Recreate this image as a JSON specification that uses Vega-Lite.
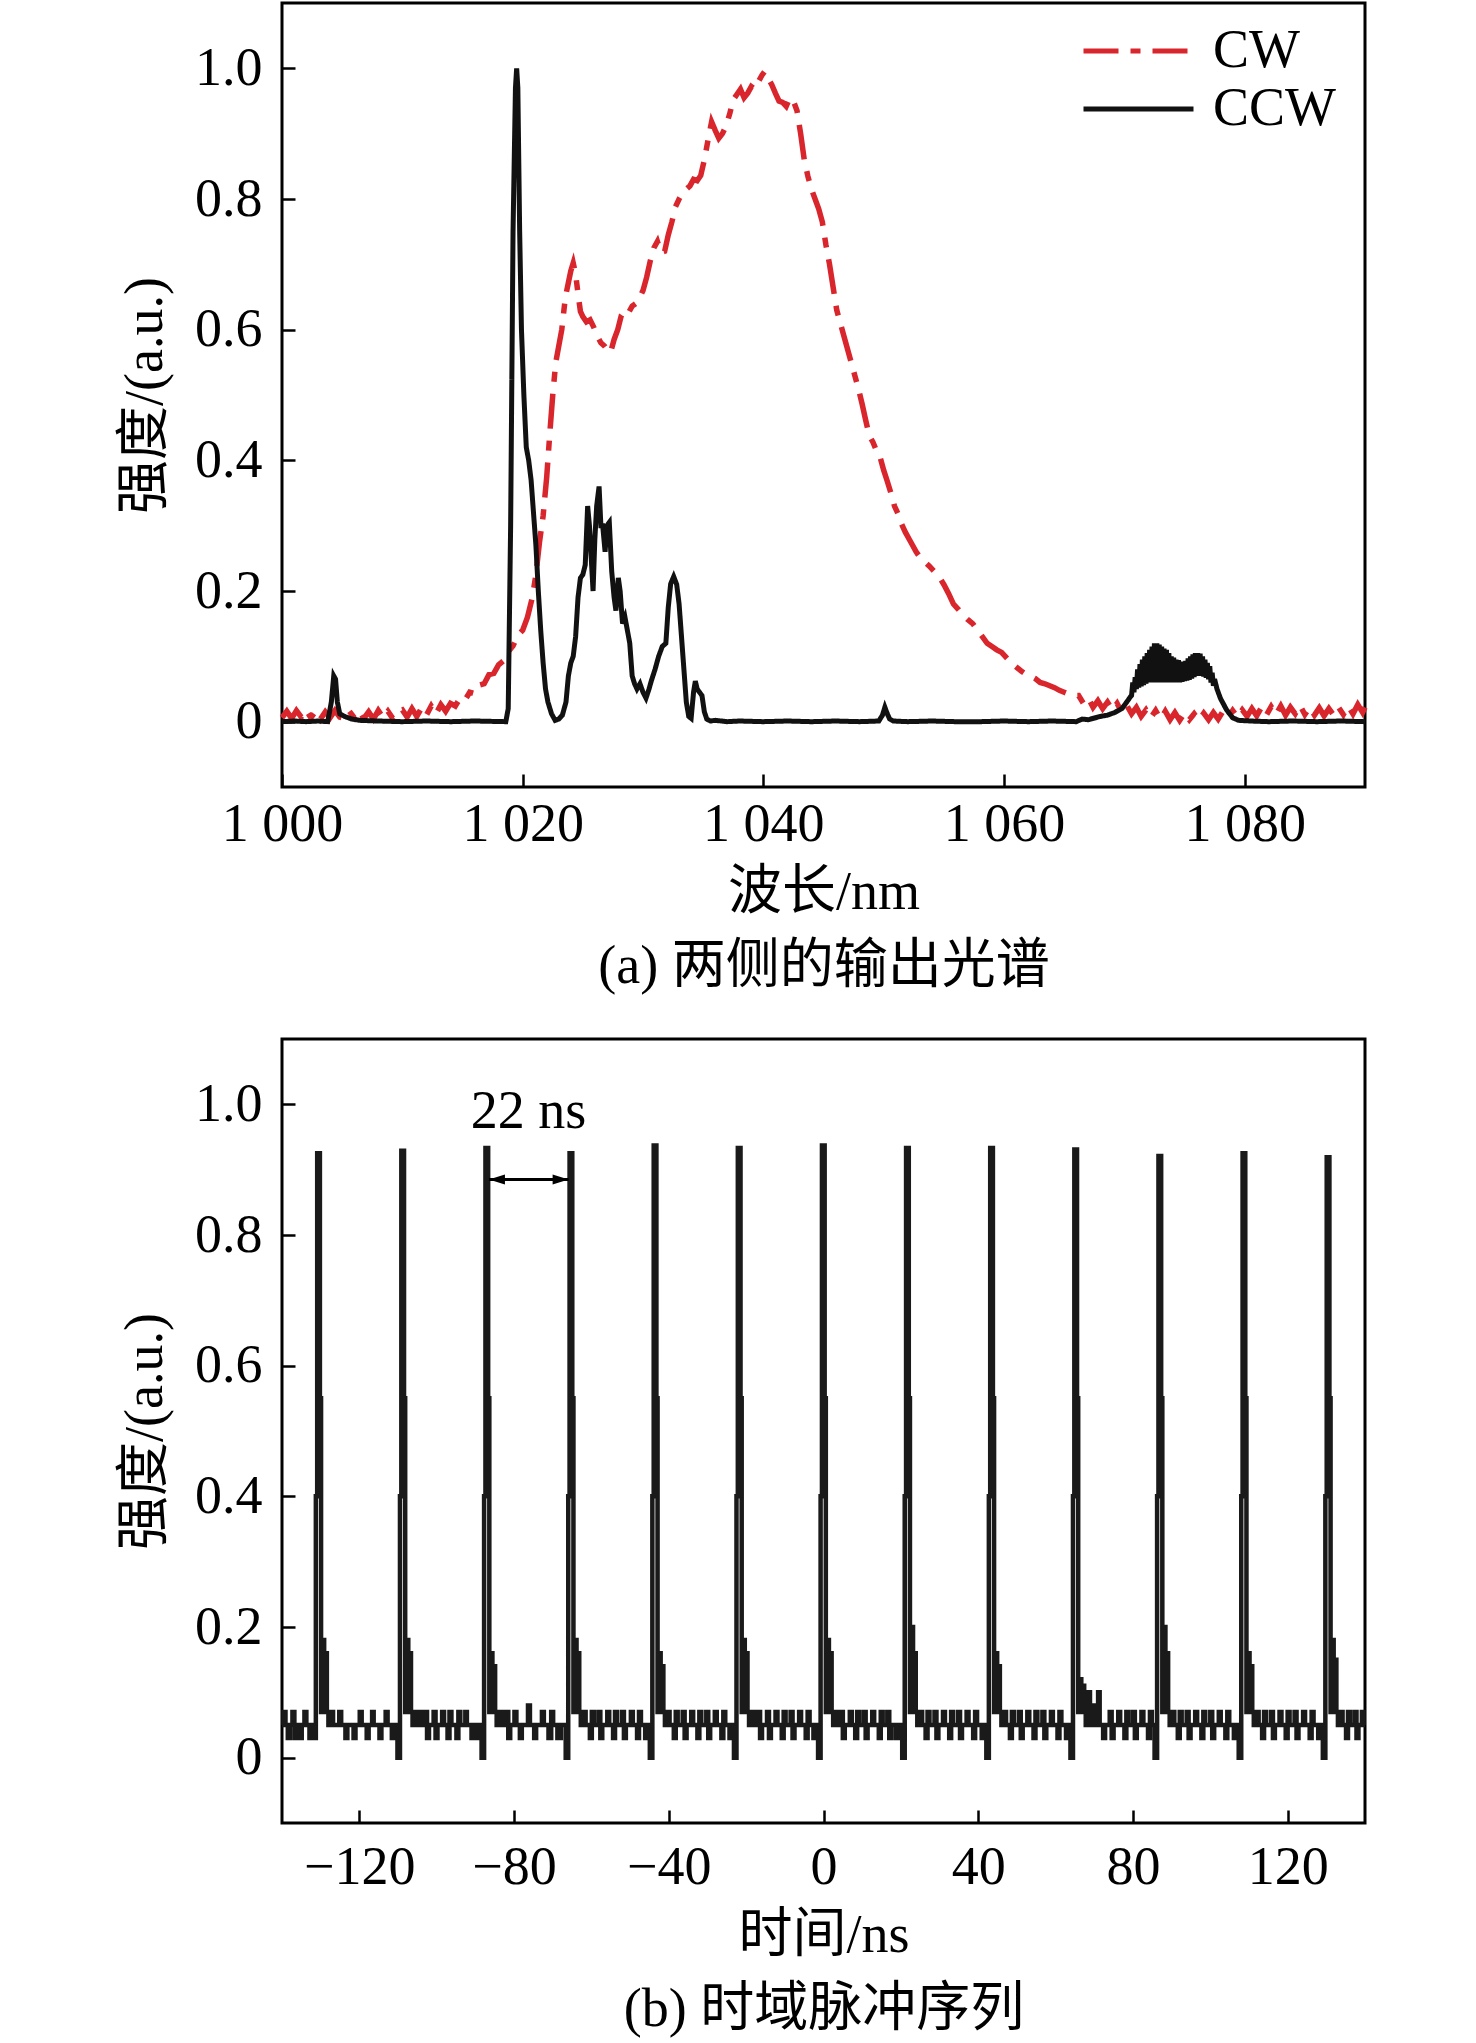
{
"$schema": "https://vega.github.io/schema/vega-lite/v6.json",
"padding": {"left": 117, "top": 1, "right": 5, "bottom": 5},
"background": "white",
"spacing": 42,
"config": {
  "view": {"stroke": "black", "strokeWidth": 3},
  "font": "Liberation Serif",
  "axis": {
    "domain": false, "grid": false,
    "labelFont": "Liberation Serif", "labelFontSize": 54, "labelColor": "black",
    "titleFont": "Liberation Serif, Noto Sans CJK SC", "titleFontSize": 54, "titleFontWeight": "normal", "titleColor": "black",
    "tickColor": "black", "tickWidth": 2.5, "tickSize": -13, "labelPadding": 33,
    "labelFlush": false, "labelOverlap": false
  },
  "axisX": {"labelPadding": 30, "titlePadding": 14, "titleLineHeight": 74},
  "axisY": {"titlePadding": 22}
},
"datasets": {
  "spectra": [
    {"s":"CW","x":1000,"y":0.006},{"s":"CW","x":1000.4,"y":0.016},{"s":"CW","x":1000.8,"y":0.005},{"s":"CW","x":1001.2,"y":0.017},{"s":"CW","x":1001.6,"y":0.007},{"s":"CW","x":1002,"y":0.018},{"s":"CW","x":1002.4,"y":0.006},{"s":"CW","x":1002.8,"y":0.016},{"s":"CW","x":1003.2,"y":0.004},{"s":"CW","x":1003.6,"y":0.015},{"s":"CW","x":1004,"y":0.006},{"s":"CW","x":1004.4,"y":0.017},{"s":"CW","x":1004.8,"y":0.007},{"s":"CW","x":1005.2,"y":0.005},{"s":"CW","x":1005.6,"y":0.016},{"s":"CW","x":1006,"y":0.006},{"s":"CW","x":1006.4,"y":0.017},{"s":"CW","x":1006.8,"y":0.005},{"s":"CW","x":1007.2,"y":0.015},{"s":"CW","x":1007.6,"y":0.004},{"s":"CW","x":1008,"y":0.017},{"s":"CW","x":1008.4,"y":0.006},{"s":"CW","x":1008.8,"y":0.016},{"s":"CW","x":1009.2,"y":0.005},{"s":"CW","x":1009.6,"y":0.015},{"s":"CW","x":1010,"y":0.018},{"s":"CW","x":1010.4,"y":0.007},{"s":"CW","x":1010.8,"y":0.02},{"s":"CW","x":1011.2,"y":0.008},{"s":"CW","x":1011.6,"y":0.021},{"s":"CW","x":1012,"y":0.01},{"s":"CW","x":1012.4,"y":0.024},{"s":"CW","x":1012.8,"y":0.012},{"s":"CW","x":1013.2,"y":0.026},{"s":"CW","x":1013.6,"y":0.016},{"s":"CW","x":1014,"y":0.028},{"s":"CW","x":1014.4,"y":0.024},{"s":"CW","x":1014.8,"y":0.036},{"s":"CW","x":1015.2,"y":0.033},{"s":"CW","x":1015.6,"y":0.045},{"s":"CW","x":1016,"y":0.043},{"s":"CW","x":1016.4,"y":0.056},{"s":"CW","x":1016.8,"y":0.058},{"s":"CW","x":1017.2,"y":0.072},{"s":"CW","x":1017.6,"y":0.074},{"s":"CW","x":1018,"y":0.087},{"s":"CW","x":1018.4,"y":0.093},{"s":"CW","x":1018.8,"y":0.107},{"s":"CW","x":1019.2,"y":0.116},{"s":"CW","x":1019.6,"y":0.132},{"s":"CW","x":1020,"y":0.14},{"s":"CW","x":1020.4,"y":0.16},{"s":"CW","x":1020.8,"y":0.19},{"s":"CW","x":1021.1,"y":0.225},{"s":"CW","x":1021.4,"y":0.275},{"s":"CW","x":1021.7,"y":0.315},{"s":"CW","x":1022,"y":0.375},{"s":"CW","x":1022.25,"y":0.44},{"s":"CW","x":1022.5,"y":0.5},{"s":"CW","x":1022.75,"y":0.55},{"s":"CW","x":1023,"y":0.575},{"s":"CW","x":1023.25,"y":0.6},{"s":"CW","x":1023.55,"y":0.65},{"s":"CW","x":1023.8,"y":0.672},{"s":"CW","x":1024,"y":0.69},{"s":"CW","x":1024.2,"y":0.702},{"s":"CW","x":1024.4,"y":0.685},{"s":"CW","x":1024.6,"y":0.655},{"s":"CW","x":1024.8,"y":0.628},{"s":"CW","x":1025,"y":0.62},{"s":"CW","x":1025.3,"y":0.612},{"s":"CW","x":1025.6,"y":0.615},{"s":"CW","x":1025.9,"y":0.604},{"s":"CW","x":1026.2,"y":0.59},{"s":"CW","x":1026.5,"y":0.58},{"s":"CW","x":1026.8,"y":0.575},{"s":"CW","x":1027,"y":0.57},{"s":"CW","x":1027.3,"y":0.565},{"s":"CW","x":1027.6,"y":0.585},{"s":"CW","x":1027.9,"y":0.6},{"s":"CW","x":1028.2,"y":0.622},{"s":"CW","x":1028.5,"y":0.63},{"s":"CW","x":1028.8,"y":0.626},{"s":"CW","x":1029.1,"y":0.636},{"s":"CW","x":1029.4,"y":0.64},{"s":"CW","x":1029.7,"y":0.648},{"s":"CW","x":1030,"y":0.66},{"s":"CW","x":1030.3,"y":0.68},{"s":"CW","x":1030.6,"y":0.705},{"s":"CW","x":1030.9,"y":0.725},{"s":"CW","x":1031.2,"y":0.735},{"s":"CW","x":1031.5,"y":0.718},{"s":"CW","x":1031.8,"y":0.72},{"s":"CW","x":1032.1,"y":0.745},{"s":"CW","x":1032.4,"y":0.765},{"s":"CW","x":1032.7,"y":0.788},{"s":"CW","x":1033,"y":0.8},{"s":"CW","x":1033.3,"y":0.81},{"s":"CW","x":1033.6,"y":0.815},{"s":"CW","x":1033.9,"y":0.82},{"s":"CW","x":1034.2,"y":0.83},{"s":"CW","x":1034.5,"y":0.828},{"s":"CW","x":1034.8,"y":0.836},{"s":"CW","x":1035.1,"y":0.86},{"s":"CW","x":1035.4,"y":0.89},{"s":"CW","x":1035.7,"y":0.918},{"s":"CW","x":1036,"y":0.905},{"s":"CW","x":1036.3,"y":0.893},{"s":"CW","x":1036.6,"y":0.9},{"s":"CW","x":1036.9,"y":0.912},{"s":"CW","x":1037.2,"y":0.93},{"s":"CW","x":1037.5,"y":0.952},{"s":"CW","x":1037.8,"y":0.96},{"s":"CW","x":1038.1,"y":0.968},{"s":"CW","x":1038.4,"y":0.955},{"s":"CW","x":1038.7,"y":0.962},{"s":"CW","x":1039,"y":0.972},{"s":"CW","x":1039.3,"y":0.968},{"s":"CW","x":1039.6,"y":0.98},{"s":"CW","x":1039.9,"y":0.99},{"s":"CW","x":1040.1,"y":0.995},{"s":"CW","x":1040.4,"y":0.985},{"s":"CW","x":1040.7,"y":0.975},{"s":"CW","x":1041,"y":0.962},{"s":"CW","x":1041.3,"y":0.95},{"s":"CW","x":1041.6,"y":0.948},{"s":"CW","x":1041.9,"y":0.942},{"s":"CW","x":1042.2,"y":0.955},{"s":"CW","x":1042.5,"y":0.95},{"s":"CW","x":1042.8,"y":0.935},{"s":"CW","x":1043.1,"y":0.9},{"s":"CW","x":1043.4,"y":0.86},{"s":"CW","x":1043.7,"y":0.835},{"s":"CW","x":1044,"y":0.815},{"s":"CW","x":1044.3,"y":0.8},{"s":"CW","x":1044.6,"y":0.785},{"s":"CW","x":1044.9,"y":0.765},{"s":"CW","x":1045.2,"y":0.73},{"s":"CW","x":1045.5,"y":0.7},{"s":"CW","x":1045.8,"y":0.665},{"s":"CW","x":1046.1,"y":0.63},{"s":"CW","x":1046.4,"y":0.61},{"s":"CW","x":1046.7,"y":0.59},{"s":"CW","x":1047,"y":0.57},{"s":"CW","x":1047.3,"y":0.55},{"s":"CW","x":1047.6,"y":0.53},{"s":"CW","x":1047.9,"y":0.51},{"s":"CW","x":1048.2,"y":0.487},{"s":"CW","x":1048.5,"y":0.462},{"s":"CW","x":1048.8,"y":0.438},{"s":"CW","x":1049.1,"y":0.428},{"s":"CW","x":1049.4,"y":0.415},{"s":"CW","x":1049.7,"y":0.405},{"s":"CW","x":1050,"y":0.385},{"s":"CW","x":1050.3,"y":0.368},{"s":"CW","x":1050.6,"y":0.35},{"s":"CW","x":1050.9,"y":0.33},{"s":"CW","x":1051.2,"y":0.318},{"s":"CW","x":1051.5,"y":0.302},{"s":"CW","x":1051.8,"y":0.29},{"s":"CW","x":1052.1,"y":0.28},{"s":"CW","x":1052.4,"y":0.27},{"s":"CW","x":1052.7,"y":0.26},{"s":"CW","x":1053,"y":0.252},{"s":"CW","x":1053.4,"y":0.245},{"s":"CW","x":1053.8,"y":0.238},{"s":"CW","x":1054.2,"y":0.23},{"s":"CW","x":1054.6,"y":0.222},{"s":"CW","x":1055,"y":0.21},{"s":"CW","x":1055.4,"y":0.196},{"s":"CW","x":1055.8,"y":0.18},{"s":"CW","x":1056.2,"y":0.172},{"s":"CW","x":1056.6,"y":0.163},{"s":"CW","x":1057,"y":0.156},{"s":"CW","x":1057.4,"y":0.15},{"s":"CW","x":1057.8,"y":0.14},{"s":"CW","x":1058.2,"y":0.13},{"s":"CW","x":1058.6,"y":0.12},{"s":"CW","x":1059,"y":0.115},{"s":"CW","x":1059.4,"y":0.11},{"s":"CW","x":1059.8,"y":0.106},{"s":"CW","x":1060.2,"y":0.098},{"s":"CW","x":1060.6,"y":0.09},{"s":"CW","x":1061,"y":0.084},{"s":"CW","x":1061.4,"y":0.078},{"s":"CW","x":1061.8,"y":0.073},{"s":"CW","x":1062.2,"y":0.07},{"s":"CW","x":1062.6,"y":0.066},{"s":"CW","x":1063,"y":0.06},{"s":"CW","x":1063.4,"y":0.058},{"s":"CW","x":1063.8,"y":0.055},{"s":"CW","x":1064.2,"y":0.052},{"s":"CW","x":1064.6,"y":0.048},{"s":"CW","x":1065,"y":0.045},{"s":"CW","x":1065.4,"y":0.042},{"s":"CW","x":1065.8,"y":0.04},{"s":"CW","x":1066.2,"y":0.04},{"s":"CW","x":1066.6,"y":0.028},{"s":"CW","x":1067,"y":0.036},{"s":"CW","x":1067.4,"y":0.022},{"s":"CW","x":1067.8,"y":0.032},{"s":"CW","x":1068.2,"y":0.02},{"s":"CW","x":1068.6,"y":0.03},{"s":"CW","x":1069,"y":0.018},{"s":"CW","x":1069.4,"y":0.028},{"s":"CW","x":1069.8,"y":0.014},{"s":"CW","x":1070.2,"y":0.025},{"s":"CW","x":1070.6,"y":0.012},{"s":"CW","x":1071,"y":0.022},{"s":"CW","x":1071.4,"y":0.008},{"s":"CW","x":1071.8,"y":0.018},{"s":"CW","x":1072.2,"y":0.006},{"s":"CW","x":1072.6,"y":0.017},{"s":"CW","x":1073,"y":0.004},{"s":"CW","x":1073.4,"y":0.016},{"s":"CW","x":1073.8,"y":0.003},{"s":"CW","x":1074.2,"y":0.014},{"s":"CW","x":1074.6,"y":0.002},{"s":"CW","x":1075,"y":0.013},{"s":"CW","x":1075.4,"y":0.003},{"s":"CW","x":1075.8,"y":0.012},{"s":"CW","x":1076.2,"y":0.002},{"s":"CW","x":1076.6,"y":0.013},{"s":"CW","x":1077,"y":0.003},{"s":"CW","x":1077.4,"y":0.014},{"s":"CW","x":1077.8,"y":0.004},{"s":"CW","x":1078.2,"y":0.016},{"s":"CW","x":1078.6,"y":0.006},{"s":"CW","x":1079,"y":0.017},{"s":"CW","x":1079.4,"y":0.007},{"s":"CW","x":1079.8,"y":0.018},{"s":"CW","x":1080.2,"y":0.008},{"s":"CW","x":1080.6,"y":0.02},{"s":"CW","x":1081,"y":0.009},{"s":"CW","x":1081.4,"y":0.022},{"s":"CW","x":1081.8,"y":0.01},{"s":"CW","x":1082.2,"y":0.023},{"s":"CW","x":1082.6,"y":0.011},{"s":"CW","x":1083,"y":0.024},{"s":"CW","x":1083.4,"y":0.01},{"s":"CW","x":1083.8,"y":0.022},{"s":"CW","x":1084.2,"y":0.012},{"s":"CW","x":1084.6,"y":0.025},{"s":"CW","x":1085,"y":0.011},{"s":"CW","x":1085.4,"y":0.022},{"s":"CW","x":1085.8,"y":0.01},{"s":"CW","x":1086.2,"y":0.021},{"s":"CW","x":1086.6,"y":0.009},{"s":"CW","x":1087,"y":0.02},{"s":"CW","x":1087.4,"y":0.01},{"s":"CW","x":1087.8,"y":0.022},{"s":"CW","x":1088.2,"y":0.011},{"s":"CW","x":1088.6,"y":0.024},{"s":"CW","x":1089,"y":0.012},{"s":"CW","x":1089.4,"y":0.026},{"s":"CW","x":1089.8,"y":0.014},{"s":"CW","x":1090,"y":0.022},
    {"s":"CCW","x":1000,"y":0},{"s":"CCW","x":1001,"y":0.001},{"s":"CCW","x":1002,"y":0},{"s":"CCW","x":1003,"y":0.001},{"s":"CCW","x":1003.8,"y":0},{"s":"CCW","x":1004.1,"y":0.03},{"s":"CCW","x":1004.3,"y":0.07},{"s":"CCW","x":1004.45,"y":0.065},{"s":"CCW","x":1004.6,"y":0.03},{"s":"CCW","x":1004.8,"y":0.012},{"s":"CCW","x":1005.2,"y":0.008},{"s":"CCW","x":1005.8,"y":0.004},{"s":"CCW","x":1006.5,"y":0.002},{"s":"CCW","x":1008,"y":0.001},{"s":"CCW","x":1010,"y":0},{"s":"CCW","x":1012,"y":0.001},{"s":"CCW","x":1014,"y":0},{"s":"CCW","x":1016,"y":0.001},{"s":"CCW","x":1018.6,"y":0},{"s":"CCW","x":1018.8,"y":0.02},{"s":"CCW","x":1019,"y":0.3},{"s":"CCW","x":1019.2,"y":0.75},{"s":"CCW","x":1019.4,"y":0.97},{"s":"CCW","x":1019.5,"y":1.0},{"s":"CCW","x":1019.6,"y":0.97},{"s":"CCW","x":1019.75,"y":0.75},{"s":"CCW","x":1019.9,"y":0.6},{"s":"CCW","x":1020.1,"y":0.5},{"s":"CCW","x":1020.3,"y":0.42},{"s":"CCW","x":1020.5,"y":0.4},{"s":"CCW","x":1020.7,"y":0.37},{"s":"CCW","x":1020.9,"y":0.32},{"s":"CCW","x":1021.1,"y":0.27},{"s":"CCW","x":1021.3,"y":0.2},{"s":"CCW","x":1021.5,"y":0.14},{"s":"CCW","x":1021.7,"y":0.09},{"s":"CCW","x":1021.9,"y":0.05},{"s":"CCW","x":1022.1,"y":0.03},{"s":"CCW","x":1022.4,"y":0.012},{"s":"CCW","x":1022.7,"y":0.002},{"s":"CCW","x":1023,"y":0.004},{"s":"CCW","x":1023.3,"y":0.01},{"s":"CCW","x":1023.6,"y":0.03},{"s":"CCW","x":1023.8,"y":0.07},{"s":"CCW","x":1024,"y":0.09},{"s":"CCW","x":1024.2,"y":0.1},{"s":"CCW","x":1024.4,"y":0.13},{"s":"CCW","x":1024.6,"y":0.19},{"s":"CCW","x":1024.8,"y":0.22},{"s":"CCW","x":1025,"y":0.225},{"s":"CCW","x":1025.2,"y":0.24},{"s":"CCW","x":1025.4,"y":0.33},{"s":"CCW","x":1025.55,"y":0.3},{"s":"CCW","x":1025.7,"y":0.25},{"s":"CCW","x":1025.85,"y":0.2},{"s":"CCW","x":1026,"y":0.28},{"s":"CCW","x":1026.15,"y":0.33},{"s":"CCW","x":1026.35,"y":0.36},{"s":"CCW","x":1026.5,"y":0.3},{"s":"CCW","x":1026.65,"y":0.3},{"s":"CCW","x":1026.85,"y":0.26},{"s":"CCW","x":1027,"y":0.3},{"s":"CCW","x":1027.2,"y":0.305},{"s":"CCW","x":1027.4,"y":0.23},{"s":"CCW","x":1027.6,"y":0.19},{"s":"CCW","x":1027.75,"y":0.17},{"s":"CCW","x":1027.95,"y":0.22},{"s":"CCW","x":1028.1,"y":0.2},{"s":"CCW","x":1028.3,"y":0.15},{"s":"CCW","x":1028.5,"y":0.16},{"s":"CCW","x":1028.7,"y":0.14},{"s":"CCW","x":1028.9,"y":0.12},{"s":"CCW","x":1029.1,"y":0.07},{"s":"CCW","x":1029.3,"y":0.058},{"s":"CCW","x":1029.5,"y":0.05},{"s":"CCW","x":1029.75,"y":0.058},{"s":"CCW","x":1030,"y":0.045},{"s":"CCW","x":1030.25,"y":0.036},{"s":"CCW","x":1030.5,"y":0.05},{"s":"CCW","x":1030.7,"y":0.063},{"s":"CCW","x":1031,"y":0.08},{"s":"CCW","x":1031.3,"y":0.1},{"s":"CCW","x":1031.6,"y":0.115},{"s":"CCW","x":1031.9,"y":0.12},{"s":"CCW","x":1032.1,"y":0.175},{"s":"CCW","x":1032.3,"y":0.211},{"s":"CCW","x":1032.55,"y":0.222},{"s":"CCW","x":1032.8,"y":0.21},{"s":"CCW","x":1033,"y":0.18},{"s":"CCW","x":1033.2,"y":0.13},{"s":"CCW","x":1033.4,"y":0.08},{"s":"CCW","x":1033.6,"y":0.03},{"s":"CCW","x":1033.8,"y":0.008},{"s":"CCW","x":1034,"y":0.005},{"s":"CCW","x":1034.2,"y":0.045},{"s":"CCW","x":1034.35,"y":0.062},{"s":"CCW","x":1034.5,"y":0.05},{"s":"CCW","x":1034.7,"y":0.045},{"s":"CCW","x":1034.9,"y":0.04},{"s":"CCW","x":1035.1,"y":0.015},{"s":"CCW","x":1035.3,"y":0.004},{"s":"CCW","x":1035.6,"y":0.001},{"s":"CCW","x":1036,"y":0.002},{"s":"CCW","x":1037,"y":0},{"s":"CCW","x":1038,"y":0.001},{"s":"CCW","x":1040,"y":0},{"s":"CCW","x":1042,"y":0.001},{"s":"CCW","x":1044,"y":0},{"s":"CCW","x":1046,"y":0.001},{"s":"CCW","x":1048,"y":0},{"s":"CCW","x":1049.6,"y":0.001},{"s":"CCW","x":1049.9,"y":0.01},{"s":"CCW","x":1050.1,"y":0.022},{"s":"CCW","x":1050.3,"y":0.012},{"s":"CCW","x":1050.5,"y":0.004},{"s":"CCW","x":1050.8,"y":0.001},{"s":"CCW","x":1052,"y":0},{"s":"CCW","x":1054,"y":0.001},{"s":"CCW","x":1056,"y":0},{"s":"CCW","x":1058,"y":0},{"s":"CCW","x":1060,"y":0.001},{"s":"CCW","x":1062,"y":0},{"s":"CCW","x":1064,"y":0.001},{"s":"CCW","x":1066,"y":0},{"s":"CCW","x":1066.5,"y":0.004},{"s":"CCW","x":1067,"y":0.003},{"s":"CCW","x":1067.6,"y":0.006},{"s":"CCW","x":1068,"y":0.008},{"s":"CCW","x":1068.6,"y":0.01},{"s":"CCW","x":1069.2,"y":0.014},{"s":"CCW","x":1069.8,"y":0.02},{"s":"CCW","x":1070.2,"y":0.03},{"s":"CCW","x":1070.5,"y":0.038},
    {"s":"CCW","x":1070.6,"y":0.04},{"s":"CCW","x":1070.7,"y":0.06},{"s":"CCW","x":1070.8,"y":0.045},{"s":"CCW","x":1070.9,"y":0.068},{"s":"CCW","x":1071,"y":0.05},{"s":"CCW","x":1071.1,"y":0.08},{"s":"CCW","x":1071.2,"y":0.052},{"s":"CCW","x":1071.3,"y":0.088},{"s":"CCW","x":1071.4,"y":0.054},{"s":"CCW","x":1071.5,"y":0.095},{"s":"CCW","x":1071.6,"y":0.056},{"s":"CCW","x":1071.7,"y":0.1},{"s":"CCW","x":1071.8,"y":0.058},{"s":"CCW","x":1071.9,"y":0.105},{"s":"CCW","x":1072,"y":0.06},{"s":"CCW","x":1072.1,"y":0.11},{"s":"CCW","x":1072.2,"y":0.06},{"s":"CCW","x":1072.3,"y":0.115},{"s":"CCW","x":1072.4,"y":0.061},{"s":"CCW","x":1072.5,"y":0.12},{"s":"CCW","x":1072.6,"y":0.06},{"s":"CCW","x":1072.7,"y":0.12},{"s":"CCW","x":1072.8,"y":0.061},{"s":"CCW","x":1072.9,"y":0.118},{"s":"CCW","x":1073,"y":0.06},{"s":"CCW","x":1073.1,"y":0.115},{"s":"CCW","x":1073.2,"y":0.06},{"s":"CCW","x":1073.3,"y":0.112},{"s":"CCW","x":1073.4,"y":0.06},{"s":"CCW","x":1073.5,"y":0.11},{"s":"CCW","x":1073.6,"y":0.06},{"s":"CCW","x":1073.7,"y":0.105},{"s":"CCW","x":1073.8,"y":0.06},{"s":"CCW","x":1073.9,"y":0.1},{"s":"CCW","x":1074,"y":0.06},{"s":"CCW","x":1074.1,"y":0.098},{"s":"CCW","x":1074.2,"y":0.06},{"s":"CCW","x":1074.3,"y":0.095},{"s":"CCW","x":1074.4,"y":0.06},{"s":"CCW","x":1074.5,"y":0.094},{"s":"CCW","x":1074.6,"y":0.06},{"s":"CCW","x":1074.7,"y":0.092},{"s":"CCW","x":1074.8,"y":0.061},{"s":"CCW","x":1074.9,"y":0.09},{"s":"CCW","x":1075,"y":0.062},{"s":"CCW","x":1075.1,"y":0.093},{"s":"CCW","x":1075.2,"y":0.063},{"s":"CCW","x":1075.3,"y":0.097},{"s":"CCW","x":1075.4,"y":0.064},{"s":"CCW","x":1075.5,"y":0.1},{"s":"CCW","x":1075.6,"y":0.066},{"s":"CCW","x":1075.7,"y":0.103},{"s":"CCW","x":1075.8,"y":0.068},{"s":"CCW","x":1075.9,"y":0.105},{"s":"CCW","x":1076,"y":0.07},{"s":"CCW","x":1076.1,"y":0.105},{"s":"CCW","x":1076.2,"y":0.07},{"s":"CCW","x":1076.3,"y":0.104},{"s":"CCW","x":1076.4,"y":0.07},{"s":"CCW","x":1076.5,"y":0.1},{"s":"CCW","x":1076.6,"y":0.069},{"s":"CCW","x":1076.7,"y":0.095},{"s":"CCW","x":1076.8,"y":0.067},{"s":"CCW","x":1076.9,"y":0.09},{"s":"CCW","x":1077,"y":0.065},{"s":"CCW","x":1077.1,"y":0.085},{"s":"CCW","x":1077.2,"y":0.06},{"s":"CCW","x":1077.3,"y":0.075},{"s":"CCW","x":1077.4,"y":0.055},{"s":"CCW","x":1077.5,"y":0.065},{"s":"CCW","x":1077.7,"y":0.05},{"s":"CCW","x":1078,"y":0.035},{"s":"CCW","x":1078.5,"y":0.018},{"s":"CCW","x":1079,"y":0.006},{"s":"CCW","x":1079.5,"y":0.002},{"s":"CCW","x":1080.5,"y":0.001},{"s":"CCW","x":1082,"y":0},{"s":"CCW","x":1084,"y":0.001},{"s":"CCW","x":1086,"y":0},{"s":"CCW","x":1088,"y":0.001},{"s":"CCW","x":1090,"y":0}
  ],
  "pulses": [
    {"t":-140,"v":0.05},{"t":-139.6,"v":0.07},{"t":-139.1,"v":0.05},{"t":-138.5,"v":0.03},{"t":-138,"v":0.05},{"t":-137.3,"v":0.07},{"t":-136.8,"v":0.03},{"t":-136.3,"v":0.05},{"t":-135.5,"v":0.03},{"t":-134.9,"v":0.05},{"t":-134.2,"v":0.07},{"t":-133.7,"v":0.05},{"t":-132.9,"v":0.03},{"t":-132.4,"v":0.05},
    {"t":-131.9,"v":0.03},{"t":-131.25,"v":0.4},{"t":-130.9,"v":0.925},{"t":-130.2,"v":0.55},{"t":-129.9,"v":0.07},{"t":-129.5,"v":0.18},{"t":-129.1,"v":0.11},{"t":-128.8,"v":0.16},{"t":-128.4,"v":0.07},{"t":-128,"v":0.05},
    {"t":-127.3,"v":0.07},{"t":-126.8,"v":0.05},{"t":-125.2,"v":0.07},{"t":-124.7,"v":0.05},{"t":-123.6,"v":0.03},{"t":-123.1,"v":0.05},{"t":-121.5,"v":0.03},{"t":-121,"v":0.05},{"t":-119.9,"v":0.07},{"t":-119.4,"v":0.05},{"t":-118.1,"v":0.03},{"t":-117.6,"v":0.05},{"t":-116.7,"v":0.07},{"t":-116.3,"v":0.05},{"t":-114.8,"v":0.03},{"t":-114.3,"v":0.05},{"t":-113.2,"v":0.07},{"t":-112.7,"v":0.05},{"t":-111.6,"v":0.03},{"t":-111.2,"v":0.05},
    {"t":-110.15,"v":0},{"t":-109.5,"v":0.4},{"t":-109.15,"v":0.929},{"t":-108.45,"v":0.55},{"t":-108.15,"v":0.07},{"t":-107.75,"v":0.18},{"t":-107.35,"v":0.11},{"t":-107.05,"v":0.16},{"t":-106.65,"v":0.07},{"t":-106.25,"v":0.05},
    {"t":-105.6,"v":0.07},{"t":-105.2,"v":0.05},{"t":-104.6,"v":0.07},{"t":-104.1,"v":0.05},{"t":-103,"v":0.07},{"t":-102.5,"v":0.03},{"t":-102,"v":0.05},{"t":-100.8,"v":0.07},{"t":-100.3,"v":0.03},{"t":-99.8,"v":0.05},{"t":-98.6,"v":0.07},{"t":-98.1,"v":0.05},{"t":-97.2,"v":0.03},{"t":-96.7,"v":0.07},{"t":-96.2,"v":0.05},{"t":-94.9,"v":0.03},{"t":-94.4,"v":0.07},{"t":-93.9,"v":0.05},{"t":-92.6,"v":0.07},{"t":-92.2,"v":0.05},{"t":-91,"v":0.03},{"t":-90.5,"v":0.05},{"t":-89.6,"v":0.03},{"t":-89,"v":0.05},
    {"t":-88.4,"v":0},{"t":-87.75,"v":0.4},{"t":-87.4,"v":0.933},{"t":-86.7,"v":0.55},{"t":-86.4,"v":0.07},{"t":-86,"v":0.16},{"t":-85.6,"v":0.11},{"t":-85.3,"v":0.14},{"t":-84.9,"v":0.07},{"t":-84.5,"v":0.05},
    {"t":-83.6,"v":0.07},{"t":-83.1,"v":0.05},{"t":-82,"v":0.07},{"t":-81.5,"v":0.03},{"t":-81,"v":0.05},{"t":-79.9,"v":0.07},{"t":-79.4,"v":0.05},{"t":-78.5,"v":0.03},{"t":-78,"v":0.05},{"t":-76.4,"v":0.08},{"t":-75.9,"v":0.05},{"t":-74.8,"v":0.03},{"t":-74.3,"v":0.05},{"t":-72.8,"v":0.07},{"t":-72.3,"v":0.05},{"t":-71.1,"v":0.03},{"t":-70.4,"v":0.07},{"t":-69.9,"v":0.05},{"t":-68.8,"v":0.03},{"t":-67.9,"v":0.05},
    {"t":-66.65,"v":0},{"t":-66,"v":0.4},{"t":-65.65,"v":0.925},{"t":-64.95,"v":0.55},{"t":-64.65,"v":0.07},{"t":-64.25,"v":0.18},{"t":-63.85,"v":0.11},{"t":-63.55,"v":0.16},{"t":-63.15,"v":0.07},{"t":-62.75,"v":0.05},
    {"t":-62,"v":0.07},{"t":-61.5,"v":0.05},{"t":-60.4,"v":0.03},{"t":-59.9,"v":0.07},{"t":-59.4,"v":0.05},{"t":-58.2,"v":0.07},{"t":-57.7,"v":0.03},{"t":-57.2,"v":0.05},{"t":-55.9,"v":0.07},{"t":-55.4,"v":0.05},{"t":-54.4,"v":0.03},{"t":-53.9,"v":0.07},{"t":-53.4,"v":0.05},{"t":-52.1,"v":0.07},{"t":-51.6,"v":0.03},{"t":-51.1,"v":0.05},{"t":-49.8,"v":0.07},{"t":-49.3,"v":0.05},{"t":-48.2,"v":0.03},{"t":-47.7,"v":0.07},{"t":-47.2,"v":0.05},{"t":-46.1,"v":0.03},{"t":-45.6,"v":0.05},
    {"t":-44.9,"v":0},{"t":-44.25,"v":0.4},{"t":-43.9,"v":0.937},{"t":-43.2,"v":0.55},{"t":-42.9,"v":0.07},{"t":-42.5,"v":0.16},{"t":-42.1,"v":0.11},{"t":-41.8,"v":0.14},{"t":-41.4,"v":0.07},{"t":-41,"v":0.05},
    {"t":-40.3,"v":0.07},{"t":-39.8,"v":0.05},{"t":-38.7,"v":0.03},{"t":-38.2,"v":0.07},{"t":-37.7,"v":0.05},{"t":-36.4,"v":0.07},{"t":-35.9,"v":0.03},{"t":-35.4,"v":0.05},{"t":-34.2,"v":0.07},{"t":-33.7,"v":0.05},{"t":-32.6,"v":0.03},{"t":-32.1,"v":0.07},{"t":-31.6,"v":0.05},{"t":-30.3,"v":0.07},{"t":-29.8,"v":0.03},{"t":-29.3,"v":0.05},{"t":-28.1,"v":0.07},{"t":-27.6,"v":0.05},{"t":-26.4,"v":0.03},{"t":-25.9,"v":0.07},{"t":-25.4,"v":0.05},{"t":-24.3,"v":0.03},{"t":-23.8,"v":0.05},
    {"t":-23.15,"v":0},{"t":-22.5,"v":0.4},{"t":-22.15,"v":0.933},{"t":-21.45,"v":0.55},{"t":-21.15,"v":0.07},{"t":-20.75,"v":0.18},{"t":-20.35,"v":0.11},{"t":-20.05,"v":0.16},{"t":-19.65,"v":0.07},{"t":-19.25,"v":0.05},
    {"t":-18.5,"v":0.07},{"t":-18,"v":0.05},{"t":-16.9,"v":0.07},{"t":-16.4,"v":0.03},{"t":-15.9,"v":0.05},{"t":-14.6,"v":0.07},{"t":-14.1,"v":0.03},{"t":-13.6,"v":0.05},{"t":-12.4,"v":0.07},{"t":-11.9,"v":0.05},{"t":-10.8,"v":0.03},{"t":-10.3,"v":0.07},{"t":-9.8,"v":0.05},{"t":-8.5,"v":0.07},{"t":-8,"v":0.03},{"t":-7.5,"v":0.05},{"t":-6.3,"v":0.07},{"t":-5.8,"v":0.05},{"t":-4.6,"v":0.03},{"t":-4.1,"v":0.07},{"t":-3.6,"v":0.05},{"t":-2.6,"v":0.03},{"t":-2,"v":0.05},
    {"t":-1.4,"v":0},{"t":-0.75,"v":0.4},{"t":-0.4,"v":0.937},{"t":0.3,"v":0.55},{"t":0.6,"v":0.07},{"t":1,"v":0.18},{"t":1.4,"v":0.11},{"t":1.7,"v":0.16},{"t":2.1,"v":0.07},{"t":2.5,"v":0.05},
    {"t":3.2,"v":0.07},{"t":3.7,"v":0.05},{"t":4.5,"v":0.07},{"t":5,"v":0.03},{"t":5.5,"v":0.05},{"t":6.8,"v":0.07},{"t":7.3,"v":0.05},{"t":8.2,"v":0.03},{"t":8.7,"v":0.07},{"t":9.2,"v":0.05},{"t":10.4,"v":0.07},{"t":10.9,"v":0.03},{"t":11.4,"v":0.05},{"t":12.6,"v":0.07},{"t":13.1,"v":0.05},{"t":14.3,"v":0.03},{"t":14.8,"v":0.07},{"t":15.3,"v":0.05},{"t":16.5,"v":0.07},{"t":17,"v":0.03},{"t":17.5,"v":0.05},{"t":18.7,"v":0.03},{"t":19.2,"v":0.05},
    {"t":20.35,"v":0},{"t":21,"v":0.4},{"t":21.35,"v":0.933},{"t":22.05,"v":0.55},{"t":22.35,"v":0.07},{"t":22.75,"v":0.2},{"t":23.15,"v":0.11},{"t":23.45,"v":0.16},{"t":23.85,"v":0.07},{"t":24.25,"v":0.05},
    {"t":25,"v":0.07},{"t":25.5,"v":0.05},{"t":26.4,"v":0.03},{"t":26.9,"v":0.07},{"t":27.4,"v":0.05},{"t":28.7,"v":0.07},{"t":29.2,"v":0.03},{"t":29.7,"v":0.05},{"t":30.9,"v":0.07},{"t":31.4,"v":0.05},{"t":32.5,"v":0.03},{"t":33,"v":0.07},{"t":33.5,"v":0.05},{"t":34.8,"v":0.07},{"t":35.3,"v":0.03},{"t":35.8,"v":0.05},{"t":37,"v":0.07},{"t":37.5,"v":0.05},{"t":38.7,"v":0.03},{"t":39.2,"v":0.07},{"t":39.7,"v":0.05},{"t":40.9,"v":0.03},{"t":41.4,"v":0.05},
    {"t":42.1,"v":0},{"t":42.75,"v":0.4},{"t":43.1,"v":0.933},{"t":43.8,"v":0.55},{"t":44.1,"v":0.07},{"t":44.5,"v":0.16},{"t":44.9,"v":0.11},{"t":45.2,"v":0.14},{"t":45.6,"v":0.07},{"t":46,"v":0.05},
    {"t":46.7,"v":0.07},{"t":47.2,"v":0.05},{"t":48.2,"v":0.03},{"t":48.7,"v":0.07},{"t":49.2,"v":0.05},{"t":50.5,"v":0.07},{"t":51,"v":0.03},{"t":51.5,"v":0.05},{"t":52.7,"v":0.07},{"t":53.2,"v":0.05},{"t":54.3,"v":0.03},{"t":54.8,"v":0.07},{"t":55.3,"v":0.05},{"t":56.6,"v":0.07},{"t":57.1,"v":0.03},{"t":57.6,"v":0.05},{"t":58.8,"v":0.07},{"t":59.3,"v":0.05},{"t":60.5,"v":0.03},{"t":61,"v":0.07},{"t":61.5,"v":0.05},{"t":62.7,"v":0.03},{"t":63.2,"v":0.05},
    {"t":63.85,"v":0},{"t":64.5,"v":0.4},{"t":64.85,"v":0.931},{"t":65.55,"v":0.55},{"t":65.85,"v":0.07},{"t":66.25,"v":0.12},{"t":66.65,"v":0.07},{"t":67,"v":0.11},{"t":67.4,"v":0.08},{"t":67.8,"v":0.05},
    {"t":68.5,"v":0.1},{"t":68.9,"v":0.05},{"t":69.8,"v":0.08},{"t":70.2,"v":0.05},{"t":71,"v":0.1},{"t":71.4,"v":0.05},{"t":72.3,"v":0.03},{"t":72.8,"v":0.05},{"t":74,"v":0.07},{"t":74.5,"v":0.03},{"t":75,"v":0.05},{"t":76.2,"v":0.07},{"t":76.7,"v":0.05},{"t":77.8,"v":0.03},{"t":78.3,"v":0.07},{"t":78.8,"v":0.05},{"t":80,"v":0.07},{"t":80.5,"v":0.03},{"t":81,"v":0.05},{"t":82.2,"v":0.07},{"t":82.7,"v":0.05},{"t":83.9,"v":0.03},{"t":84.4,"v":0.07},{"t":84.9,"v":0.05},
    {"t":85.6,"v":0},{"t":86.25,"v":0.4},{"t":86.6,"v":0.921},{"t":87.3,"v":0.55},{"t":87.6,"v":0.07},{"t":88,"v":0.2},{"t":88.4,"v":0.13},{"t":88.7,"v":0.16},{"t":89.1,"v":0.07},{"t":89.5,"v":0.05},
    {"t":90.2,"v":0.07},{"t":90.7,"v":0.05},{"t":91.6,"v":0.03},{"t":92.1,"v":0.07},{"t":92.6,"v":0.05},{"t":93.9,"v":0.07},{"t":94.4,"v":0.03},{"t":94.9,"v":0.05},{"t":96.1,"v":0.07},{"t":96.6,"v":0.05},{"t":97.7,"v":0.03},{"t":98.2,"v":0.07},{"t":98.7,"v":0.05},{"t":100,"v":0.07},{"t":100.5,"v":0.03},{"t":101,"v":0.05},{"t":102.2,"v":0.07},{"t":102.7,"v":0.05},{"t":103.9,"v":0.03},{"t":104.4,"v":0.07},{"t":104.9,"v":0.05},{"t":106.1,"v":0.03},{"t":106.6,"v":0.05},
    {"t":107.35,"v":0},{"t":108,"v":0.4},{"t":108.35,"v":0.925},{"t":109.05,"v":0.55},{"t":109.35,"v":0.07},{"t":109.75,"v":0.16},{"t":110.15,"v":0.11},{"t":110.45,"v":0.14},{"t":110.85,"v":0.07},{"t":111.25,"v":0.05},
    {"t":112,"v":0.07},{"t":112.5,"v":0.05},{"t":113.4,"v":0.03},{"t":113.9,"v":0.07},{"t":114.4,"v":0.05},{"t":115.7,"v":0.07},{"t":116.2,"v":0.03},{"t":116.7,"v":0.05},{"t":117.9,"v":0.07},{"t":118.4,"v":0.05},{"t":119.5,"v":0.03},{"t":120,"v":0.07},{"t":120.5,"v":0.05},{"t":121.8,"v":0.07},{"t":122.3,"v":0.03},{"t":122.8,"v":0.05},{"t":124,"v":0.07},{"t":124.5,"v":0.05},{"t":125.7,"v":0.03},{"t":126.2,"v":0.07},{"t":126.7,"v":0.05},{"t":127.9,"v":0.03},{"t":128.4,"v":0.05},
    {"t":129.1,"v":0},{"t":129.75,"v":0.4},{"t":130.1,"v":0.919},{"t":130.8,"v":0.55},{"t":131.1,"v":0.07},{"t":131.5,"v":0.18},{"t":131.9,"v":0.11},{"t":132.2,"v":0.15},{"t":132.6,"v":0.07},{"t":133,"v":0.05},
    {"t":133.7,"v":0.07},{"t":134.2,"v":0.05},{"t":135.1,"v":0.03},{"t":135.6,"v":0.07},{"t":136.1,"v":0.05},{"t":137.3,"v":0.07},{"t":137.8,"v":0.03},{"t":138.3,"v":0.05},{"t":139.2,"v":0.07},{"t":139.6,"v":0.05},{"t":140,"v":0.05}
  ],
  "arrow": [{"x1": -86.5, "x2": -65.9, "y": 0.885}],
  "note": [{"x": -76.3, "y": 0.988, "label": "22 ns"}]
},
"vconcat": [
  {
    "width": 1083, "height": 784,
    "layer": [
      {
        "data": {"name": "spectra"},
        "transform": [{"filter": "datum.s === 'CW'"}],
        "mark": {"type": "line", "strokeWidth": 5.5},
        "encoding": {
          "x": {"field": "x", "type": "quantitative", "scale": {"domain": [1000, 1090], "nice": false, "zero": false},
                "axis": {"values": [1000, 1020, 1040, 1060, 1080], "labelPadding": 23, "labelExpr": "replace(format(datum.value, ','), ',', ' ')", "title": ["波长/nm", "(a) 两侧的输出光谱"]}},
          "y": {"field": "y", "type": "quantitative", "scale": {"domain": [-0.1, 1.1], "nice": false, "zero": false},
                "axis": {"values": [0, 0.2, 0.4, 0.6, 0.8, 1], "labelExpr": "datum.value == 0 ? '0' : format(datum.value, '.1f')", "title": "强度/(a.u.)"}},
          "color": {"field": "s", "type": "nominal", "scale": {"domain": ["CW", "CCW"], "range": ["#d9252c", "#111111"]},
                    "legend": {"title": null, "orient": "none", "legendX": 799, "legendY": 19, "symbolType": "stroke", "symbolSize": 12100, "symbolStrokeWidth": 5, "clipHeight": 58, "labelOffset": 17, "padding": 0, "rowPadding": 0, "labelFontSize": 54, "labelFont": "Liberation Serif", "labelColor": "black"}},
          "strokeDash": {"field": "s", "type": "nominal", "scale": {"domain": ["CW", "CCW"], "range": [[35, 12, 10, 12], [1, 0]]},
                    "legend": {"title": null, "orient": "none", "legendX": 799, "legendY": 19, "symbolType": "stroke", "symbolSize": 12100, "symbolStrokeWidth": 5, "clipHeight": 58, "labelOffset": 17, "padding": 0, "rowPadding": 0, "labelFontSize": 54, "labelFont": "Liberation Serif", "labelColor": "black"}}
        }
      },
      {
        "data": {"name": "spectra"},
        "transform": [{"filter": "datum.s === 'CCW'"}],
        "mark": {"type": "line", "strokeWidth": 5},
        "encoding": {
          "x": {"field": "x", "type": "quantitative"},
          "y": {"field": "y", "type": "quantitative"},
          "color": {"field": "s", "type": "nominal"},
          "strokeDash": {"field": "s", "type": "nominal"}
        }
      }
    ]
  },
  {
    "width": 1083, "height": 784,
    "layer": [
      {
        "data": {"name": "pulses"},
        "mark": {"type": "line", "strokeWidth": 4.5, "color": "#1a1a1a", "interpolate": "step-after"},
        "encoding": {
          "x": {"field": "t", "type": "quantitative", "scale": {"domain": [-140, 140], "nice": false, "zero": false},
                "axis": {"values": [-120, -80, -40, 0, 40, 80, 120], "title": ["时间/ns", "(b) 时域脉冲序列"]}},
          "y": {"field": "v", "type": "quantitative", "scale": {"domain": [-0.1, 1.1], "nice": false, "zero": false},
                "axis": {"values": [0, 0.2, 0.4, 0.6, 0.8, 1], "labelExpr": "datum.value == 0 ? '0' : format(datum.value, '.1f')", "title": "强度/(a.u.)"}}
        }
      },
      {
        "data": {"name": "arrow"},
        "mark": {"type": "rule", "strokeWidth": 3, "color": "black"},
        "encoding": {
          "x": {"field": "x1", "type": "quantitative"},
          "x2": {"field": "x2"},
          "y": {"field": "y", "type": "quantitative"}
        }
      },
      {
        "data": {"name": "arrow"},
        "mark": {"type": "point", "shape": "M0,0L2,-0.62L2,0.62Z", "filled": true, "size": 256, "color": "black", "opacity": 1, "strokeWidth": 0},
        "encoding": {
          "x": {"field": "x1", "type": "quantitative"},
          "y": {"field": "y", "type": "quantitative"}
        }
      },
      {
        "data": {"name": "arrow"},
        "mark": {"type": "point", "shape": "M0,0L-2,-0.62L-2,0.62Z", "filled": true, "size": 256, "color": "black", "opacity": 1, "strokeWidth": 0},
        "encoding": {
          "x": {"field": "x2", "type": "quantitative"},
          "y": {"field": "y", "type": "quantitative"}
        }
      },
      {
        "data": {"name": "note"},
        "mark": {"type": "text", "font": "Liberation Serif", "fontSize": 54, "color": "black", "baseline": "middle", "align": "center"},
        "encoding": {
          "x": {"field": "x", "type": "quantitative"},
          "y": {"field": "y", "type": "quantitative"},
          "text": {"field": "label"}
        }
      }
    ]
  }
]
}
